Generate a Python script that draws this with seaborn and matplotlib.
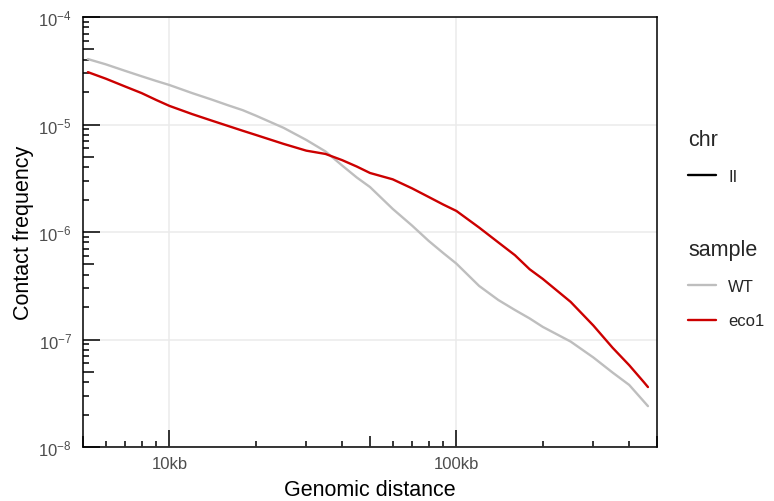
import math
import matplotlib
matplotlib.use("Agg")
import matplotlib.pyplot as plt
from matplotlib.ticker import FixedLocator, NullFormatter, FixedFormatter
from matplotlib.lines import Line2D
import pandas as pd
import seaborn as sns

# --- data (log-log contact decay) ---
distance = [5200, 6000, 7000, 8000, 9000, 10000, 12000, 14000, 16000, 18000,
            20000, 25000, 30000, 35000, 40000, 45000, 50000, 60000, 70000,
            80000, 90000, 100000, 120000, 140000, 160000, 180000, 200000,
            250000, 300000, 350000, 400000, 450000, 465000]
wt = [4.06e-5, 3.63e-5, 3.16e-5, 2.81e-5, 2.54e-5, 2.33e-5, 1.96e-5, 1.71e-5,
      1.51e-5, 1.36e-5, 1.21e-5, 9.31e-6, 7.18e-6, 5.61e-6, 4.15e-6, 3.21e-6,
      2.62e-6, 1.64e-6, 1.15e-6, 8.28e-7, 6.37e-7, 5.08e-7, 3.15e-7, 2.33e-7,
      1.88e-7, 1.57e-7, 1.31e-7, 9.57e-8, 6.81e-8, 4.93e-8, 3.78e-8, 2.65e-8,
      2.40e-8]
eco1 = [3.07e-5, 2.67e-5, 2.26e-5, 1.96e-5, 1.69e-5, 1.49e-5, 1.25e-5, 1.09e-5,
        9.7e-6, 8.75e-6, 8.0e-6, 6.6e-6, 5.71e-6, 5.32e-6, 4.66e-6, 4.06e-6,
        3.54e-6, 3.09e-6, 2.55e-6, 2.12e-6, 1.80e-6, 1.57e-6, 1.10e-6, 8.0e-7,
        6.08e-7, 4.50e-7, 3.66e-7, 2.24e-7, 1.35e-7, 8.39e-8, 5.77e-8, 4.01e-8,
        3.61e-8]
samples = ["WT", "eco1"]
sample_colors = ["#BEBEBE", "#CC0000"]
chrom = "II"

x_major = [1e4, 1e5]
x_major_labels = ["10kb", "100kb"]
y_major = [1e-8, 1e-7, 1e-6, 1e-5, 1e-4]
y_major_labels = [r"$10^{-8}$", r"$10^{-7}$", r"$10^{-6}$", r"$10^{-5}$", r"$10^{-4}$"]

df = pd.DataFrame({
    "distance": distance * 2,
    "freq": wt + eco1,
    "sample": ["WT"] * len(distance) + ["eco1"] * len(distance),
    "chr": chrom,
})

sns.set_theme(style="white")
plt.rcParams["font.family"] = ["Liberation Sans", "DejaVu Sans"]
plt.rcParams["mathtext.fontset"] = "custom"
plt.rcParams["mathtext.rm"] = "Liberation Sans"
plt.rcParams["mathtext.it"] = "Liberation Sans:italic"
plt.rcParams["mathtext.bf"] = "Liberation Sans:bold"

TITLE_SIZE = 15.5
TEXT_SIZE = 12

fig = plt.figure(figsize=(7.74, 5.02), dpi=100)
ax = fig.add_axes([83 / 774, 1 - 448 / 502, 574 / 774, 430 / 502])

sns.lineplot(data=df, x="distance", y="freq", hue="sample", hue_order=samples,
             palette=sample_colors, estimator=None, lw=1.7, legend=False, ax=ax)

ax.set_xscale("log")
ax.set_yscale("log")
ax.set_xlim(5e3, 5e5)
ax.set_ylim(1e-8, 1e-4)

# log ticks drawn inside the panel (annotation_logticks look)
x_minor = [k * 10 ** e for e in (3, 4, 5) for k in range(2, 10) if 5e3 <= k * 10 ** e <= 5e5]
y_minor = [k * 10.0 ** e for e in (-8, -7, -6, -5) for k in range(2, 10)]
ax.xaxis.set_major_locator(FixedLocator(x_major))
ax.xaxis.set_major_formatter(FixedFormatter(x_major_labels))
ax.xaxis.set_minor_locator(FixedLocator(x_minor))
ax.xaxis.set_minor_formatter(NullFormatter())
ax.yaxis.set_major_locator(FixedLocator(y_major))
ax.yaxis.set_major_formatter(FixedFormatter(y_major_labels))
ax.yaxis.set_minor_locator(FixedLocator(y_minor))
ax.yaxis.set_minor_formatter(NullFormatter())

ax.tick_params(which="both", bottom=True, left=True, top=False, right=False,
               direction="in", width=1.1, color="black")
ax.tick_params(which="major", length=12, labelcolor="#4D4D4D", labelsize=TEXT_SIZE)
ax.tick_params(which="minor", length=4)
ax.tick_params(axis="x", which="major", pad=6.5)
ax.tick_params(axis="y", which="major", pad=8)


def is_five(v):
    m = v / 10 ** math.floor(math.log10(v) + 1e-9)
    return abs(m - 5) < 1e-6


# mid-length ticks at 5 x 10^k
for locs, axis in ((x_minor, ax.xaxis), (y_minor, ax.yaxis)):
    for v, t in zip(locs, axis.get_minor_ticks(len(locs))):
        if is_five(v):
            t.tick1line.set_markersize(8)

ax.grid(True, which="major", color="#EBEBEB", lw=1.1)
ax.set_axisbelow(True)
for sp in ax.spines.values():
    sp.set_color("black")
    sp.set_linewidth(1.1)

ax.set_xlabel("Genomic distance", fontsize=TITLE_SIZE, color="black", labelpad=6)
ax.set_ylabel("Contact frequency", fontsize=TITLE_SIZE, color="black", labelpad=3)

# legends: chr, then sample
leg_kw = dict(loc="upper left", frameon=False, alignment="left", fontsize=TEXT_SIZE,
              title_fontsize=TITLE_SIZE, handlelength=1.65, handletextpad=0.75,
              labelspacing=1.15, borderpad=0, borderaxespad=0)
chr_handles = [Line2D([], [], color="black", lw=1.7)]
fig.legend(chr_handles, [chrom], title="chr",
           bbox_to_anchor=(688 / 774, 1 - 130 / 502), **leg_kw)
sample_handles = [Line2D([], [], color=c, lw=1.7) for c in sample_colors]
fig.legend(sample_handles, samples, title="sample",
           bbox_to_anchor=(688 / 774, 1 - 240 / 502), **leg_kw)

plt.savefig("out.png", dpi=100)
